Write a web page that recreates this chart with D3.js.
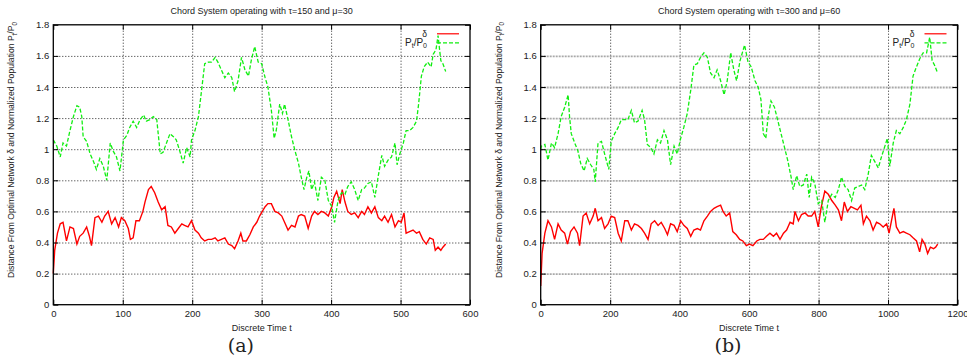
<!DOCTYPE html>
<html><head><meta charset="utf-8">
<script src="https://cdn.jsdelivr.net/npm/d3@7"></script>
<style>
body{margin:0;background:#fff;}
svg{display:block;}
text{font-family:"Liberation Sans",Arial,sans-serif;fill:#222;}
</style></head>
<body><svg id="c" width="967" height="361"></svg>
<script>
// ---------- DATA ----------
const yTicks = [0,0.2,0.4,0.6,0.8,1,1.2,1.4,1.6,1.8];
const xTicksA = [0,100,200,300,400,500,600];
const xTicksB = [0,200,400,600,800,1000,1200];
const titleA = "Chord System operating with \u03c4=150 and \u03bc=30";
const titleB = "Chord System operating with \u03c4=300 and \u03bc=60";
const xLabel = "Discrete Time t";
const yLabel = "Distance From Optimal Network \u03b4 and Normalized Population ";
const panelLabels = ["(a)","(b)"];

// Panel (a): delta
const deltaA_t = [0,2,6,10,14,19,24,29,34,38,43,48,52,55,60,65,70,74,79,84,89,94,98,103,108,111,115,119,124,129,132,137,141,146,151,156,161,165,170,175,180,185,189,194,199,204,209,213,218,223,228,233,237,242,247,252,257,261,266,270,273,278,283,288,293,297,301,305,309,314,319,324,329,333,338,343,348,353,357,362,367,372,376,381,386,391,396,401,404,408,413,416,420,424,429,434,439,444,448,453,458,463,468,473,477,482,487,492,497,501,505,508,513,518,523,527,532,537,542,547,550,554,558,561,565];
const deltaA_v = [0.20,0.35,0.46,0.52,0.53,0.41,0.50,0.49,0.39,0.44,0.46,0.50,0.44,0.38,0.56,0.57,0.53,0.57,0.60,0.52,0.56,0.50,0.56,0.54,0.49,0.42,0.43,0.54,0.54,0.60,0.66,0.74,0.76,0.72,0.66,0.61,0.63,0.51,0.50,0.46,0.49,0.52,0.51,0.50,0.54,0.48,0.46,0.43,0.41,0.42,0.42,0.43,0.41,0.42,0.43,0.39,0.38,0.36,0.41,0.46,0.41,0.41,0.45,0.50,0.53,0.57,0.60,0.63,0.65,0.65,0.60,0.59,0.57,0.53,0.48,0.51,0.50,0.57,0.58,0.57,0.49,0.57,0.60,0.58,0.60,0.59,0.57,0.63,0.69,0.73,0.65,0.74,0.66,0.60,0.58,0.59,0.56,0.60,0.58,0.63,0.59,0.63,0.56,0.54,0.57,0.53,0.58,0.50,0.54,0.53,0.59,0.46,0.47,0.48,0.46,0.47,0.42,0.39,0.43,0.42,0.35,0.37,0.35,0.37,0.39];
// Panel (a): population ratio
const popA_t = [0,5,10,14,19,24,29,34,38,41,43,48,53,58,62,67,72,77,82,86,91,96,101,106,110,115,120,125,130,134,139,144,149,154,158,163,168,173,177,182,187,192,197,199,204,209,213,218,223,228,233,237,242,247,252,257,261,266,271,276,281,285,290,295,300,305,309,314,318,321,326,330,333,338,343,348,353,357,361,365,368,372,376,381,386,391,396,401,405,410,415,420,424,429,434,439,444,448,453,458,463,468,473,477,482,487,492,495,499,504,508,513,518,523,526,530,534,539,544,547,551,554,558,561,565];
const popA_v = [1.06,1.02,0.95,1.04,1.02,1.12,1.21,1.28,1.27,1.21,1.08,1.05,0.97,0.92,0.87,0.94,0.89,0.80,1.04,0.99,0.95,0.86,1.06,1.09,1.14,1.18,1.14,1.19,1.22,1.18,1.19,1.21,1.19,0.97,0.98,1.04,1.10,1.08,1.06,0.99,0.91,1.01,0.95,1.06,1.12,1.21,1.36,1.55,1.56,1.56,1.59,1.56,1.51,1.46,1.49,1.46,1.37,1.44,1.59,1.51,1.47,1.57,1.66,1.56,1.55,1.46,1.40,1.25,1.07,1.12,1.29,1.23,1.29,1.19,1.08,0.99,0.91,0.82,0.74,0.82,0.86,0.74,0.79,0.67,0.82,0.80,0.67,0.63,0.53,0.67,0.72,0.71,0.76,0.79,0.74,0.67,0.74,0.75,0.78,0.79,0.69,0.83,0.96,0.89,0.93,0.95,1.04,0.90,0.97,1.04,1.12,1.12,1.14,1.18,1.29,1.47,1.53,1.56,1.53,1.61,1.64,1.73,1.57,1.55,1.50];

// Panel (b): delta
const deltaB_t = [0,4,12,21,31,40,50,59,69,77,86,96,106,112,122,131,141,151,157,165,175,184,194,203,213,223,232,242,251,261,270,280,290,299,309,318,328,338,347,357,365,374,384,393,403,412,422,432,441,451,460,470,480,489,499,508,518,525,534,544,553,563,573,582,592,601,611,622,631,641,650,660,670,679,689,699,708,718,727,732,742,751,761,770,780,789,799,807,818,828,838,848,857,866,874,883,893,903,912,922,929,938,948,957,967,976,986,996,1003,1010,1017,1024,1034,1044,1053,1063,1072,1082,1091,1098,1106,1114,1122,1131,1137,1143];
const deltaB_v = [0.12,0.33,0.46,0.54,0.50,0.42,0.52,0.48,0.46,0.39,0.47,0.50,0.46,0.38,0.57,0.59,0.52,0.57,0.62,0.54,0.56,0.49,0.52,0.57,0.56,0.46,0.41,0.54,0.54,0.48,0.52,0.51,0.49,0.46,0.42,0.52,0.54,0.51,0.53,0.49,0.45,0.52,0.51,0.47,0.54,0.51,0.49,0.44,0.48,0.49,0.48,0.54,0.57,0.60,0.62,0.63,0.64,0.60,0.57,0.59,0.47,0.45,0.42,0.41,0.38,0.39,0.38,0.41,0.42,0.42,0.44,0.46,0.44,0.46,0.42,0.46,0.48,0.53,0.52,0.60,0.54,0.58,0.59,0.57,0.57,0.60,0.50,0.62,0.73,0.71,0.67,0.64,0.61,0.54,0.66,0.60,0.63,0.62,0.61,0.64,0.52,0.57,0.54,0.48,0.53,0.52,0.50,0.52,0.46,0.54,0.62,0.50,0.46,0.47,0.46,0.45,0.43,0.41,0.34,0.42,0.39,0.33,0.37,0.36,0.37,0.39];
// Panel (b): population ratio
const popB_t = [0,2,12,21,31,40,50,59,69,79,83,88,98,107,115,125,134,144,153,157,165,175,184,196,203,213,223,232,242,251,261,270,280,292,299,307,317,326,336,345,355,365,374,384,393,403,412,422,432,441,451,460,470,480,489,499,508,518,528,537,547,556,564,574,587,597,606,617,626,634,641,648,655,663,673,682,692,701,711,721,727,737,746,756,766,773,780,789,799,809,818,828,838,848,857,866,876,885,895,904,914,924,933,943,952,962,972,981,991,998,1005,1015,1024,1034,1044,1053,1063,1072,1082,1091,1101,1111,1120,1127,1134,1141];
const popB_v = [1.00,1.02,1.03,0.93,1.04,1.01,1.10,1.21,1.27,1.35,1.21,1.10,1.04,0.99,0.91,0.86,0.94,0.90,0.87,0.79,1.04,1.05,0.97,0.87,1.05,1.10,1.14,1.19,1.19,1.19,1.25,1.17,1.18,1.25,1.19,1.03,1.01,0.97,1.06,1.04,1.12,1.06,0.90,1.02,0.97,1.07,1.14,1.23,1.38,1.54,1.55,1.59,1.62,1.59,1.49,1.46,1.51,1.44,1.35,1.44,1.62,1.51,1.44,1.57,1.67,1.56,1.53,1.44,1.40,1.32,1.10,1.07,1.21,1.31,1.27,1.19,1.10,1.02,0.93,0.82,0.74,0.83,0.76,0.77,0.84,0.69,0.82,0.78,0.65,0.67,0.53,0.67,0.71,0.69,0.74,0.82,0.76,0.74,0.67,0.75,0.76,0.77,0.74,0.84,0.96,0.92,0.88,0.95,1.02,1.07,0.89,1.04,1.12,1.10,1.14,1.19,1.29,1.47,1.53,1.58,1.62,1.62,1.72,1.57,1.54,1.50];

// ---------- DRAW ----------
const svg = d3.select("#c");
const panels = [
  {left:53.3, right:470, xMax:600, xTicks:xTicksA, title:titleA, label:panelLabels[0], labelX:240.8,
   dT:deltaA_t, dV:deltaA_v, pT:popA_t, pV:popA_v, hGrid:{stroke:"#000",w:1,dash:"1,2"}},
  {left:540.7, right:957.5, xMax:1200, xTicks:xTicksB, title:titleB, label:panelLabels[1], labelX:728,
   dT:deltaB_t, dV:deltaB_v, pT:popB_t, pV:popB_v, hGrid:{stroke:"#9a9a9a",w:1.8,dash:"2,1"}}
];
const plotTop = 24.8, plotBottom = 304.7;

panels.forEach(p => {
  const x = d3.scaleLinear().domain([0, p.xMax]).range([p.left, p.right]);
  const y = d3.scaleLinear().domain([0, 1.8]).range([plotBottom, plotTop]);
  const g = svg.append("g");
  const W = p.right - p.left, H = plotBottom - plotTop;

  // grid
  const gx = g.append("g").attr("transform", `translate(0,${plotBottom})`)
    .call(d3.axisBottom(x).tickValues(p.xTicks.slice(1,-1)).tickSize(-H).tickFormat(""));
  gx.select(".domain").remove();
  gx.selectAll("line").attr("stroke","#000").attr("stroke-width",1).attr("stroke-dasharray","1,2").attr("opacity",0.85);
  const gy = g.append("g").attr("transform", `translate(${p.left},0)`)
    .call(d3.axisLeft(y).tickValues(yTicks.slice(1,-1)).tickSize(-W).tickFormat(""));
  gy.select(".domain").remove();
  gy.selectAll("line").attr("stroke",p.hGrid.stroke).attr("stroke-width",p.hGrid.w).attr("stroke-dasharray",p.hGrid.dash).attr("opacity",0.85);

  // lines
  const lineD = d3.line().x((d,i)=>x(p.dT[i])).y(d=>y(d));
  g.append("path").attr("d", lineD(p.dV)).attr("fill","none").attr("stroke","#ff0000").attr("stroke-width",1.4);
  const lineP = d3.line().x((d,i)=>x(p.pT[i])).y(d=>y(d));
  g.append("path").attr("d", lineP(p.pV)).attr("fill","none").attr("stroke","#11ee11").attr("stroke-width",1.3).attr("stroke-dasharray","4,2");

  // axes
  const ax = g.append("g").attr("transform", `translate(0,${plotBottom})`)
    .call(d3.axisBottom(x).tickValues(p.xTicks).tickSizeInner(-5).tickSizeOuter(0).tickPadding(5.5).tickFormat(d3.format("d")));
  const ay = g.append("g").attr("transform", `translate(${p.left},0)`)
    .call(d3.axisLeft(y).tickValues(yTicks).tickSizeInner(-5).tickSizeOuter(0).tickPadding(4).tickFormat(d3.format("~g")));
  const at = g.append("g").attr("transform", `translate(0,${plotTop})`)
    .call(d3.axisTop(x).tickValues(p.xTicks).tickSizeInner(-5).tickSizeOuter(0).tickFormat(""));
  const ar = g.append("g").attr("transform", `translate(${p.right},0)`)
    .call(d3.axisRight(y).tickValues(yTicks).tickSizeInner(-5).tickSizeOuter(0).tickFormat(""));
  [ax,ay,at,ar].forEach(a=>{
    a.select(".domain").remove();
    a.selectAll("line").attr("stroke","#000");
    a.selectAll("text").attr("font-size",9.5).attr("font-family","Liberation Sans, Arial, sans-serif").attr("fill","#222");
  });
  g.append("rect").attr("x",p.left).attr("y",plotTop).attr("width",W).attr("height",H)
    .attr("fill","none").attr("stroke","#000").attr("stroke-width",1.3);

  // title
  g.append("text").attr("x",(p.left+p.right)/2).attr("y",14).attr("text-anchor","middle")
    .attr("font-size",9).text(p.title);
  // x label
  g.append("text").attr("x",(p.left+p.right)/2).attr("y",330.5).attr("text-anchor","middle")
    .attr("font-size",9).text(xLabel);
  // y label
  const yl = g.append("text").attr("transform",`translate(${p.left-39},150) rotate(-90)`)
    .attr("text-anchor","middle").attr("font-size",8.6);
  yl.append("tspan").text(yLabel + "P");
  yl.append("tspan").attr("font-size",6.3).attr("dy",2.5).text("t");
  yl.append("tspan").attr("dy",-2.5).text("/P");
  yl.append("tspan").attr("font-size",6.3).attr("dy",2.5).text("0");

  // legend
  const lx1 = p.right - 33, lx2 = p.right - 11, tx = p.right - 43;
  g.append("line").attr("x1",lx1).attr("x2",lx2).attr("y1",plotTop+9).attr("y2",plotTop+9)
    .attr("stroke","#ff0000").attr("stroke-width",1.2);
  g.append("line").attr("x1",lx1).attr("x2",lx2).attr("y1",plotTop+18).attr("y2",plotTop+18)
    .attr("stroke","#11ee11").attr("stroke-width",1.2).attr("stroke-dasharray","4,2");
  g.append("text").attr("x",tx).attr("y",plotTop+12.3).attr("text-anchor","end").attr("font-size",8.5).text("\u03b4");
  const lt = g.append("text").attr("x",tx).attr("y",plotTop+21).attr("text-anchor","end").attr("font-size",10);
  lt.append("tspan").text("P");
  lt.append("tspan").attr("font-size",7).attr("dy",2.5).text("t");
  lt.append("tspan").attr("dy",-2.5).text("/P");
  lt.append("tspan").attr("font-size",7).attr("dy",2.5).text("0");

  // panel label
  svg.append("text").attr("x",p.labelX).attr("y",352).attr("text-anchor","middle")
    .style("font-family","DejaVu Serif, serif").attr("font-size",19).attr("fill","#000").text(p.label);
});
</script></body></html>
